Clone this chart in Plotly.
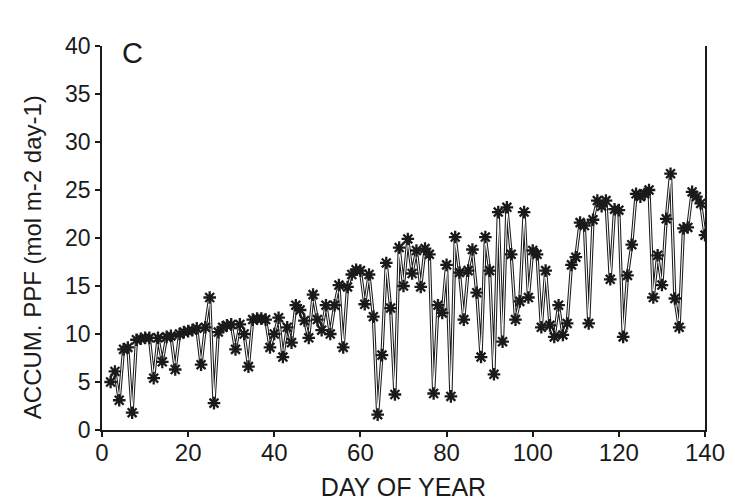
import plotly.graph_objects as go

days = list(range(2, 141))
ppf = [
    5.0, 6.1, 3.1, 8.4, 8.6, 1.8, 9.4, 9.5, 9.6, 9.6,        # 2-11
    5.4, 9.6, 7.1, 9.7, 9.8, 6.3, 10.0, 10.2, 10.3, 10.4,    # 12-21
    10.6, 6.8, 10.7, 13.8, 2.8, 10.2, 10.7, 10.9, 11.0, 8.4, # 22-31
    11.0, 10.0, 6.6, 11.5, 11.6, 11.6, 11.5, 8.6, 10.0, 11.7,# 32-41
    7.6, 10.7, 9.1, 13.0, 12.5, 11.4, 9.6, 14.1, 11.5, 10.4, # 42-51
    13.0, 10.0, 13.0, 15.1, 8.6, 14.9, 16.2, 16.7, 16.6, 13.1,# 52-61
    16.2, 11.8, 1.6, 7.8, 17.4, 12.7, 3.7, 19.0, 15.0, 19.9, # 62-71
    16.3, 18.7, 14.9, 18.9, 18.3, 3.8, 13.0, 12.2, 17.2, 3.5,# 72-81
    20.1, 16.4, 11.5, 16.6, 18.8, 14.3, 7.6, 20.1, 16.6, 5.8,# 82-91
    22.7, 9.2, 23.2, 18.3, 11.5, 13.4, 22.7, 13.8, 18.7, 18.3,# 92-101
    10.7, 16.6, 10.9, 9.7, 13.0, 9.9, 11.1, 17.2, 18.0, 21.6,# 102-111
    21.3, 11.1, 21.9, 23.9, 23.3, 23.9, 15.7, 23.0, 22.9, 9.7,# 112-121
    16.1, 19.3, 24.6, 24.3, 24.6, 25.0, 13.8, 18.2, 15.1, 22.0,# 122-131
    26.7, 13.7, 10.7, 21.0, 21.1, 24.8, 24.3, 23.6, 20.3,    # 132-140
]

x_ticks = [0, 20, 40, 60, 80, 100, 120, 140]
y_ticks = [0, 5, 10, 15, 20, 25, 30, 35, 40]

FONT = "Liberation Sans, Arial, Helvetica, sans-serif"
INK = "#1a1a1a"

fig = go.Figure()
# hollow-looking connecting line: dark outline + white core
fig.add_trace(go.Scatter(x=days, y=ppf, mode="lines",
                         line=dict(color=INK, width=3.2), hoverinfo="skip",
                         showlegend=False))
fig.add_trace(go.Scatter(x=days, y=ppf, mode="lines",
                         line=dict(color="white", width=1.1), hoverinfo="skip",
                         showlegend=False))
fig.add_trace(go.Scatter(x=days, y=ppf, mode="markers",
                         marker=dict(symbol="asterisk-open", size=10.5,
                                     color=INK, line=dict(color=INK, width=2.3)),
                         showlegend=False))

fig.add_annotation(text="C", x=7, y=39.3, xref="x", yref="y",
                   showarrow=False, font=dict(family=FONT, size=29, color=INK))
fig.add_annotation(text="ACCUM. PPF (mol m-2 day-1)", x=0, y=0.45,
                   xref="paper", yref="paper", xanchor="center", yanchor="middle",
                   xshift=-70, textangle=-90, showarrow=False,
                   font=dict(family=FONT, size=24, color=INK))

fig.update_layout(
    width=735, height=500,
    margin=dict(l=94, r=38, t=38, b=78),
    paper_bgcolor="white", plot_bgcolor="white",
    font=dict(family=FONT, size=23, color=INK),
    showlegend=False,
)
fig.update_xaxes(range=[0, 140], tickvals=x_ticks, ticks="outside", ticklen=5,
                 tickwidth=1.5, tickcolor=INK, showline=True, linecolor=INK,
                 linewidth=1.6, showgrid=False, zeroline=False,
                 tickfont=dict(size=24), automargin=False, ticklabelstandoff=-5,
                 title=dict(text="DAY OF YEAR", font=dict(size=25), standoff=14))
fig.update_yaxes(range=[0, 40], tickvals=y_ticks, ticks="outside", ticklen=5,
                 tickwidth=1.5, tickcolor=INK, showline=True, linecolor=INK,
                 linewidth=1.6, mirror=True, showgrid=False, zeroline=False,
                 tickfont=dict(size=23), automargin=False)

fig.write_html("out.html")
